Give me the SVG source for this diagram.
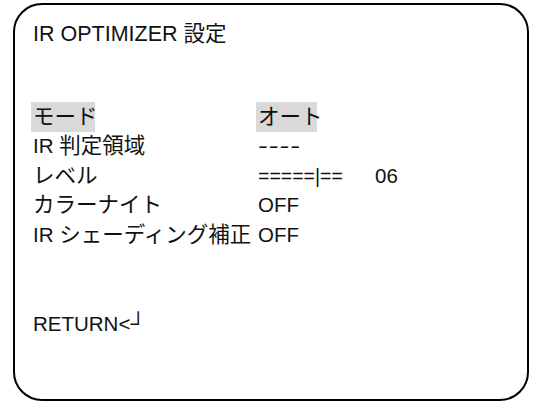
<svg xmlns="http://www.w3.org/2000/svg" width="537" height="403" viewBox="0 0 537 403">
<style>
.t{font-family:"Liberation Sans","Noto Sans CJK JP",sans-serif;font-size:21.5px;fill:#111}
.l{font-size:20.5px}
.hl{fill:#d9d9d9}
.frame{fill:#fff;stroke:#000;stroke-width:2}
</style>
<rect width="537" height="403" fill="#fff"/>
<g id="frame"><rect class="frame" x="14" y="4" width="514" height="396" rx="28" ry="28"/></g>
<g id="title"><text class="t" x="33" y="41">IR OPTIMIZER 設定</text></g>
<g id="row-mode">
<rect class="hl" x="31" y="102" width="64" height="30"/>
<rect class="hl" x="256" y="102" width="61" height="30"/>
<text class="t" x="33" y="124">モード</text>
<text class="t" x="258" y="124">オート</text>
</g>
<g id="row-area">
<text class="t" x="33" y="153"><tspan class="l">IR </tspan>判定領域</text>
<text class="t l" transform="translate(258,153) scale(1.45,1)" letter-spacing="0.6">----</text>
</g>
<g id="row-level">
<text class="t" x="33" y="183">レベル</text>
<text class="t" x="258" y="183" style="font-size:19.5px">=====|==</text>
<text class="t l" x="375" y="183">06</text>
</g>
<g id="row-color">
<text class="t" x="33" y="212">カラーナイト</text>
<text class="t l" x="258" y="212">OFF</text>
</g>
<g id="row-shading">
<text class="t" x="33" y="242"><tspan class="l">IR </tspan>シェーディング補正</text>
<text class="t l" x="258" y="242">OFF</text>
</g>
<g id="row-return"><text class="t" x="33" y="331"><tspan class="l">RETURN&lt;</tspan>┘</text></g>
<g id="connectors"/>
</svg>
